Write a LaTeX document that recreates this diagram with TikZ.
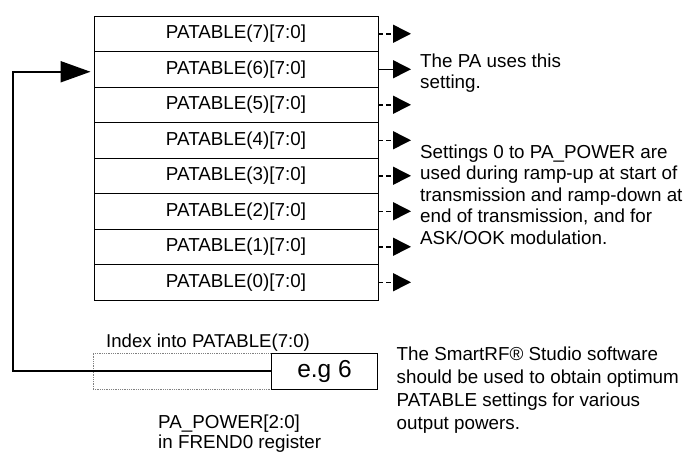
\documentclass[tikz,border=0pt]{standalone}
\usepackage{fontspec}
\setmainfont{Liberation Sans}
\usetikzlibrary{arrows.meta}
\begin{document}
\begin{tikzpicture}[x=1pt,y=-1pt,
  rowbox/.style={draw=black, line width=0.9pt, minimum width=284pt, minimum height=35.5pt, inner sep=0pt, font=\fontsize{18.8}{21}\selectfont},
  outarrow/.style={line width=1.5pt, -{Triangle[length=18pt,width=18pt]}},
  dashedarrow/.style={outarrow, dash pattern=on 5pt off 3pt},
  note/.style={anchor=base west, inner sep=0pt, font=\fontsize{18.8}{21.5}\selectfont},
  regbox/.style={draw=gray, densely dotted, line width=0.8pt, minimum width=284pt, minimum height=36pt, inner sep=0pt},
  egbox/.style={draw=black, line width=0.9pt, fill=white, minimum height=36pt, minimum width=106pt, inner sep=0pt, font=\fontsize{24.5}{28}\selectfont},
  feedback/.style={line width=2pt, -{Triangle[length=30pt,width=21pt]}, shorten >=3pt}
]
\useasboundingbox (0,0) rectangle (687,451);
% PATABLE rows
\foreach \i in {7,...,0} {
  \node[rowbox] (r\i) at (236, {16+(7-\i)*35.5+17.75}) {PATABLE(\i)[7:0]};
}
% output arrows
\coordinate (tipx) at (411,0);
\foreach \i in {7,5,4,3,2,1,0} {
  \draw[dashedarrow] (r\i.east) -- (r\i.east -| tipx);
}
\draw[outarrow] (r6.east) -- (r6.east -| tipx);
% notes on the right
\node[note] (pa) at (420, 67) {\vtop{\hbox{The PA uses this}\hbox{setting.}}};
\node[note] (settings) at (420, 158) {\vtop{\hbox{Settings 0 to PA\_POWER are}\hbox{used during ramp-up at start of}\hbox{transmission and ramp-down at}\hbox{end of transmission, and for}\hbox{ASK/OOK modulation.}}};
% register
\node[note, font=\fontsize{18.6}{21}\selectfont] (idx) at (106, 347) {Index into PATABLE(7:0)};
\node[regbox] (reg) at (235, 371) {};
\node[egbox] (eg) at (324.5, 371) {e.g 6};
\node[note, font=\fontsize{18.8}{20}\selectfont] (papower) at (158, 428.3) {\vtop{\baselineskip=20pt\hbox{PA\_POWER[2:0]}\hbox{in FREND0 register}}};
\node[note, font=\fontsize{18.8}{23}\selectfont] (smartrf) at (396.5, 360.5) {\vtop{\hbox{The SmartRF® Studio software}\hbox{should be used to obtain optimum}\hbox{PATABLE settings for various}\hbox{output powers.}}};
% feedback connector
\coordinate (corner) at (13, 371);
\draw[feedback] (eg.west) -- (corner) |- ([yshift=-2.5pt]r6.west);
\end{tikzpicture}
\end{document}
